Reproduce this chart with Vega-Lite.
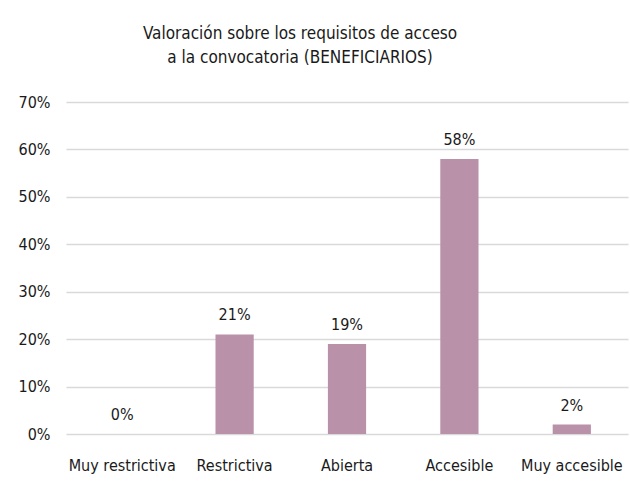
{
  "$schema": "https://vega.github.io/schema/vega-lite/v6.json",
  "autosize": "none",
  "width": 562,
  "height": 332,
  "padding": {"left": 66, "top": 102, "right": 2, "bottom": 48},
  "background": "white",
  "config": {
    "font": "'DejaVu Sans Condensed', Roboto, sans-serif",
    "view": {"stroke": null}
  },
  "title": {
    "text": ["Valoración sobre los requisitos de acceso", "a la convocatoria (BENEFICIARIOS)"],
    "anchor": "middle",
    "frame": "group",
    "dx": -47,
    "offset": 27,
    "fontSize": 17,
    "fontWeight": "normal",
    "color": "#1a1a1a",
    "font": "'DejaVu Sans Condensed', Roboto, sans-serif",
    "lineHeight": 24
  },
  "data": {
    "values": [
      {"categoria": "Muy restrictiva", "valor": 0.0},
      {"categoria": "Restrictiva", "valor": 0.21},
      {"categoria": "Abierta", "valor": 0.19},
      {"categoria": "Accesible", "valor": 0.58},
      {"categoria": "Muy accesible", "valor": 0.02}
    ]
  },
  "encoding": {
    "x": {
      "field": "categoria",
      "type": "nominal",
      "sort": null,
      "scale": {"paddingInner": 0.66, "paddingOuter": 0.33},
      "axis": {
        "title": null,
        "labelAngle": 0,
        "labelFontSize": 16,
        "labelColor": "#1a1a1a",
        "labelPadding": 23,
        "ticks": false,
        "domain": false
      }
    },
    "y": {
      "field": "valor",
      "type": "quantitative",
      "scale": {"domain": [0, 0.7]},
      "axis": {
        "title": null,
        "format": ".0%",
        "values": [0, 0.1, 0.2, 0.3, 0.4, 0.5, 0.6, 0.7],
        "labelFontSize": 16,
        "labelColor": "#1a1a1a",
        "labelPadding": 16,
        "ticks": false,
        "domain": false,
        "gridColor": "#d9d9d9",
        "gridWidth": 1.3
      }
    }
  },
  "layer": [
    {
      "mark": {"type": "bar", "color": "#b991a9"}
    },
    {
      "mark": {"type": "text", "baseline": "bottom", "dy": -11, "fontSize": 16, "color": "#1a1a1a"},
      "encoding": {
        "text": {"field": "valor", "type": "quantitative", "format": ".0%"}
      }
    }
  ]
}
